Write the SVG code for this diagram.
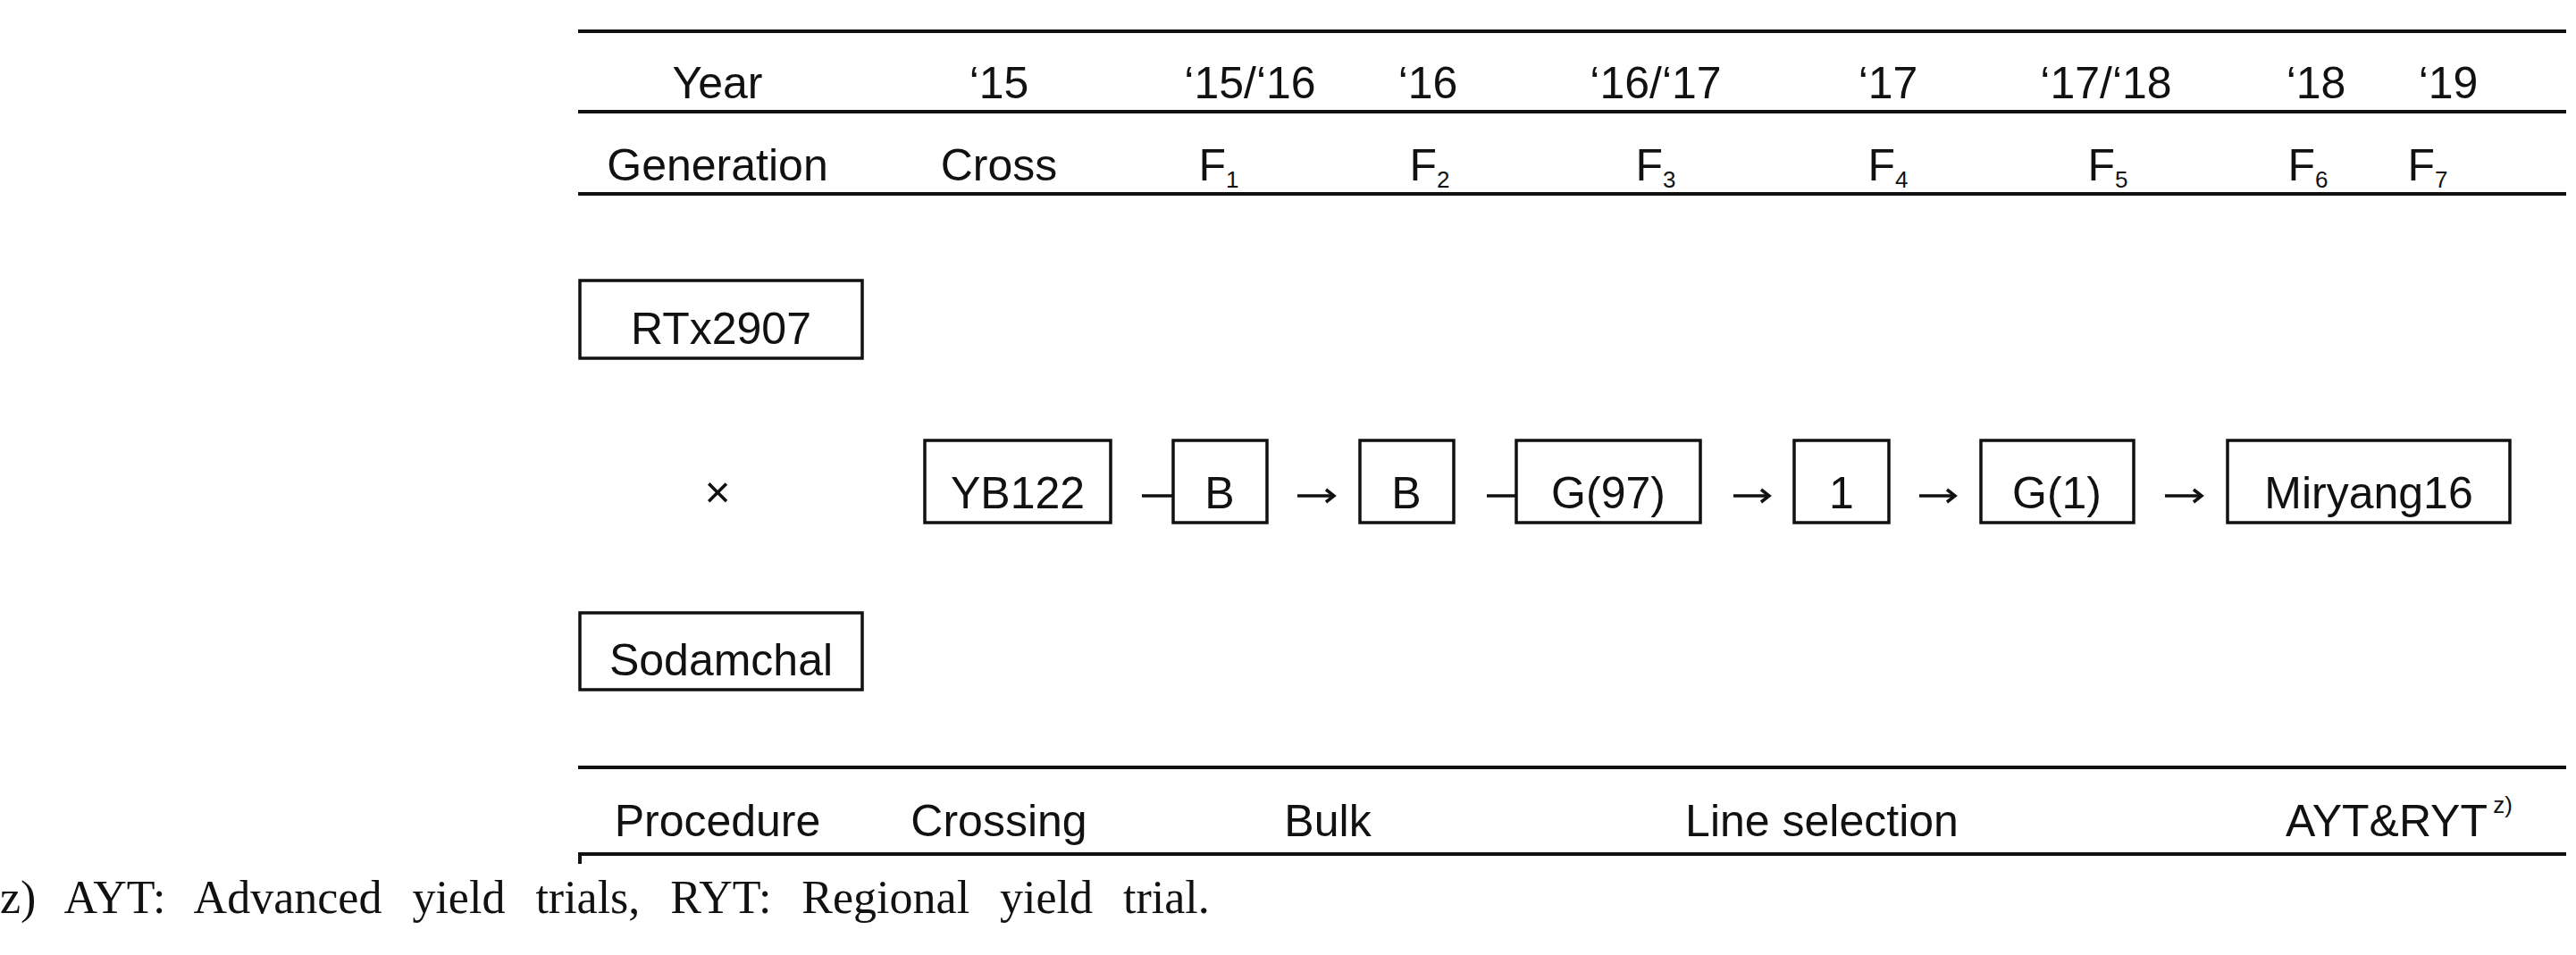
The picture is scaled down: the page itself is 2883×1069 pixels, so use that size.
<svg xmlns="http://www.w3.org/2000/svg" width="2883" height="1069" viewBox="0 0 2883 1069">
<style>
.t{font-family:"Liberation Sans",Arial,sans-serif;font-size:50px;fill:#111;text-anchor:middle}
.sub{font-size:26px}
.rule{stroke:#111;stroke-width:4;fill:none}
.box{fill:#fff;stroke:#111;stroke-width:3.5}
.arr{stroke:#111;stroke-width:3.5;fill:none}
.fn{font-family:"Liberation Serif","Times New Roman",serif;font-size:52px;fill:#111;word-spacing:21px}
</style>
<defs>
<marker id="ah" markerUnits="userSpaceOnUse" markerWidth="20" markerHeight="20" refX="12" refY="10" orient="auto">
<path d="M3,3 L12,10 L3,17" fill="none" stroke="#111" stroke-width="3.5"/>
</marker>
</defs>
<g id="table">
<line class="rule" x1="647" y1="35" x2="2872" y2="35"/>
<line class="rule" x1="647" y1="125" x2="2872" y2="125"/>
<line class="rule" x1="647" y1="217" x2="2872" y2="217"/>
<line class="rule" x1="647" y1="859" x2="2872" y2="859"/>
<line class="rule" x1="647" y1="956" x2="2872" y2="956"/>
<line class="rule" x1="649" y1="956" x2="649" y2="967"/>
<text class="t" x="803" y="110">Year</text>
<text class="t" x="1118" y="110">‘15</text>
<text class="t" x="1399" y="110">‘15/‘16</text>
<text class="t" x="1598" y="110">‘16</text>
<text class="t" x="1853" y="110">‘16/‘17</text>
<text class="t" x="2113" y="110">‘17</text>
<text class="t" x="2357" y="110">‘17/‘18</text>
<text class="t" x="2592" y="110">‘18</text>
<text class="t" x="2740" y="110">‘19</text>
<text class="t" x="803" y="202">Generation</text>
<text class="t" x="1118" y="202">Cross</text>
<text class="t" x="1364" y="202">F<tspan class="sub" dy="8">1</tspan></text>
<text class="t" x="1600" y="202">F<tspan class="sub" dy="8">2</tspan></text>
<text class="t" x="1853" y="202">F<tspan class="sub" dy="8">3</tspan></text>
<text class="t" x="2113" y="202">F<tspan class="sub" dy="8">4</tspan></text>
<text class="t" x="2359" y="202">F<tspan class="sub" dy="8">5</tspan></text>
<text class="t" x="2583" y="202">F<tspan class="sub" dy="8">6</tspan></text>
<text class="t" x="2717" y="202">F<tspan class="sub" dy="8">7</tspan></text>
<text class="t" x="803" y="936">Procedure</text>
<text class="t" x="1118" y="936">Crossing</text>
<text class="t" x="1486" y="936">Bulk</text>
<text class="t" x="2039" y="936">Line  selection</text>
<text class="t" x="2671" y="936">AYT&amp;RYT</text>
<text class="t sub" x="2801" y="910">z)</text>
<text class="t" x="803" y="568">×</text>
</g>
<g id="connectors">
<line class="arr" x1="1278" y1="555" x2="1330" y2="555" marker-end="url(#ah)"/>
<line class="arr" x1="1452" y1="555" x2="1493" y2="555" marker-end="url(#ah)"/>
<line class="arr" x1="1664" y1="555" x2="1716" y2="555" marker-end="url(#ah)"/>
<line class="arr" x1="1940" y1="555" x2="1980" y2="555" marker-end="url(#ah)"/>
<line class="arr" x1="2148" y1="555" x2="2188" y2="555" marker-end="url(#ah)"/>
<line class="arr" x1="2423" y1="555" x2="2464" y2="555" marker-end="url(#ah)"/>
</g>
<g id="n-rtx2907"><rect class="box" x="649" y="314" width="316" height="87"/><text class="t" x="807" y="385">RTx2907</text></g>
<g id="n-sodamchal"><rect class="box" x="649" y="686" width="316" height="86"/><text class="t" x="807" y="756">Sodamchal</text></g>
<g id="n-yb122"><rect class="box" x="1035" y="493" width="208" height="92"/><text class="t" x="1139" y="569">YB122</text></g>
<g id="n-b1"><rect class="box" x="1313" y="493" width="105" height="92"/><text class="t" x="1365" y="569">B</text></g>
<g id="n-b2"><rect class="box" x="1522" y="493" width="105" height="92"/><text class="t" x="1574" y="569">B</text></g>
<g id="n-g97"><rect class="box" x="1697" y="493" width="206" height="92"/><text class="t" x="1800" y="569">G(97)</text></g>
<g id="n-1"><rect class="box" x="2008" y="493" width="106" height="92"/><text class="t" x="2061" y="569">1</text></g>
<g id="n-g1"><rect class="box" x="2217" y="493" width="171" height="92"/><text class="t" x="2302" y="569">G(1)</text></g>
<g id="n-miryang16"><rect class="box" x="2493" y="493" width="316" height="92"/><text class="t" x="2651" y="569">Miryang16</text></g>
<text class="fn" x="0" y="1022">z) AYT: Advanced yield trials, RYT: Regional yield trial.</text>
</svg>
